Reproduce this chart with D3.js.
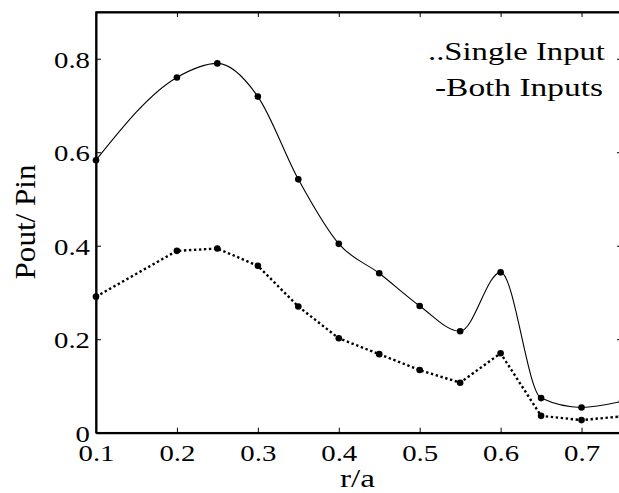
<!DOCTYPE html>
<html>
<head>
<meta charset="utf-8">
<script src="https://cdn.jsdelivr.net/npm/d3@7"></script>
<style>
  body { margin: 0; background: #fff; }
</style>
</head>
<body>
<div id="chart"></div>
<script>
// r/a positions of the measured points
const rA = [0.1, 0.2, 0.25, 0.3, 0.35, 0.4, 0.45, 0.5, 0.55, 0.6, 0.65, 0.7, 0.75];
// solid spline (both inputs)
const bothInputs = [0.583, 0.760, 0.790, 0.719, 0.542, 0.404, 0.341, 0.271, 0.217, 0.343, 0.074, 0.054, 0.067];
// dotted line (single input)
const singleInput = [0.291, 0.389, 0.394, 0.357, 0.270, 0.202, 0.168, 0.134, 0.107, 0.170, 0.036, 0.027, 0.035];
const xTicks = [0.1, 0.2, 0.3, 0.4, 0.5, 0.6, 0.7];
const yTicks = [0, 0.2, 0.4, 0.6, 0.8];
const legendLines = ['..Single Input', '-Both Inputs'];

const W = 619, H = 493;
const plotL = 96, plotT = 12, plotR = 622, plotB = 432.7;
const serif = 'Liberation Serif';

const svg = d3.select('#chart').append('svg')
  .attr('width', W)
  .attr('height', H);

const x = d3.scaleLinear().domain([0.1, 0.75]).range([plotL, plotR]);
const y = d3.scaleLinear().domain([0, 0.9]).range([plotB, plotT]);

// the original figure is stretched sideways: scale glyphs horizontally
function stretch(sel, k) {
  sel.each(function () {
    const t = d3.select(this);
    const x0 = +t.attr('x') || 0;
    t.attr('x', x0 / k).attr('transform', `scale(${k},1)`);
  });
}

// place a text at (px, py) and scale it to a given width
function fitText(txt, px, py, targetW, rotate) {
  const w = txt.node().getComputedTextLength();
  const k = targetW / w;
  txt.attr('transform', rotate
    ? `translate(${px},${py}) rotate(-90) scale(${k},1)`
    : `translate(${px},${py}) scale(${k},1)`);
}

// frame
svg.append('rect')
  .attr('x', plotL).attr('y', plotT)
  .attr('width', plotR - plotL).attr('height', plotB - plotT)
  .attr('fill', 'none').attr('stroke', '#000').attr('stroke-width', 1.5);

// axes with inward ticks
const xAxis = svg.append('g')
  .attr('transform', `translate(0,${plotB})`)
  .call(d3.axisBottom(x).tickValues(xTicks).tickSizeInner(-5).tickSizeOuter(0).tickPadding(11)
    .tickFormat(d3.format('.1f')));
const xTop = svg.append('g')
  .attr('transform', `translate(0,${plotT})`)
  .call(d3.axisTop(x).tickValues(xTicks).tickSizeInner(-5).tickSizeOuter(0).tickFormat(''));
const yAxis = svg.append('g')
  .attr('transform', `translate(${plotL},0)`)
  .call(d3.axisLeft(y).tickValues(yTicks).tickSizeInner(-5).tickSizeOuter(0).tickPadding(6)
    .tickFormat(d => (d === 0 ? '0' : d3.format('.1f')(d))));
const yRight = svg.append('g')
  .attr('transform', `translate(${plotR},0)`)
  .call(d3.axisRight(y).tickValues(yTicks).tickSizeInner(-5).tickSizeOuter(0).tickFormat(''));

[xAxis, xTop, yAxis, yRight].forEach((g) => {
  g.attr('font-family', serif);
  g.select('.domain').attr('stroke', '#000').attr('stroke-width', 2);
  g.selectAll('.tick line').attr('stroke', '#000').attr('stroke-width', 1);
});

xAxis.selectAll('.tick text')
  .style('font-family', serif)
  .style('font-size', '24px')
  .attr('fill', '#000')
  .attr('dy', '0.71em')
  .call(stretch, 1.2);
yAxis.selectAll('.tick text')
  .style('font-family', serif)
  .style('font-size', '24px')
  .attr('fill', '#000')
  .attr('dy', '0.36em')
  .call(stretch, 1.2);

// lines
const solid = d3.line()
  .x((d, i) => x(rA[i]))
  .y(d => y(d))
  .curve(d3.curveMonotoneX);
const dotted = d3.line()
  .x((d, i) => x(rA[i]))
  .y(d => y(d));

svg.append('path')
  .datum(bothInputs)
  .attr('d', solid)
  .attr('fill', 'none')
  .attr('stroke', '#000')
  .attr('stroke-width', 1.1);

svg.append('path')
  .datum(singleInput)
  .attr('d', dotted)
  .attr('fill', 'none')
  .attr('stroke', '#000')
  .attr('stroke-width', 2.4)
  .attr('stroke-dasharray', '2.4,2.6');

[bothInputs, singleInput].forEach((series) => {
  svg.append('g').selectAll('circle')
    .data(series)
    .enter()
    .append('circle')
    .attr('cx', (d, i) => x(rA[i]))
    .attr('cy', d => y(d))
    .attr('r', 3.3)
    .attr('fill', '#000');
});

// legend text
const leg1 = svg.append('text')
  .style('font-family', serif)
  .style('font-size', '26px')
  .text(legendLines[0]);
fitText(leg1, 428, 59.5, 177);
const leg2 = svg.append('text')
  .style('font-family', serif)
  .style('font-size', '26px')
  .text(legendLines[1]);
fitText(leg2, 435, 96, 168);

// axis labels
const xLab = svg.append('text')
  .style('font-family', serif)
  .style('font-size', '26px')
  .text('r/a');
fitText(xLab, 340, 487, 35);
const yLab = svg.append('text')
  .attr('text-anchor', 'middle')
  .style('font-family', serif)
  .style('font-size', '29px')
  .text('Pout/ Pin');
fitText(yLab, 35, 222, 115, true);
</script>
</body>
</html>
